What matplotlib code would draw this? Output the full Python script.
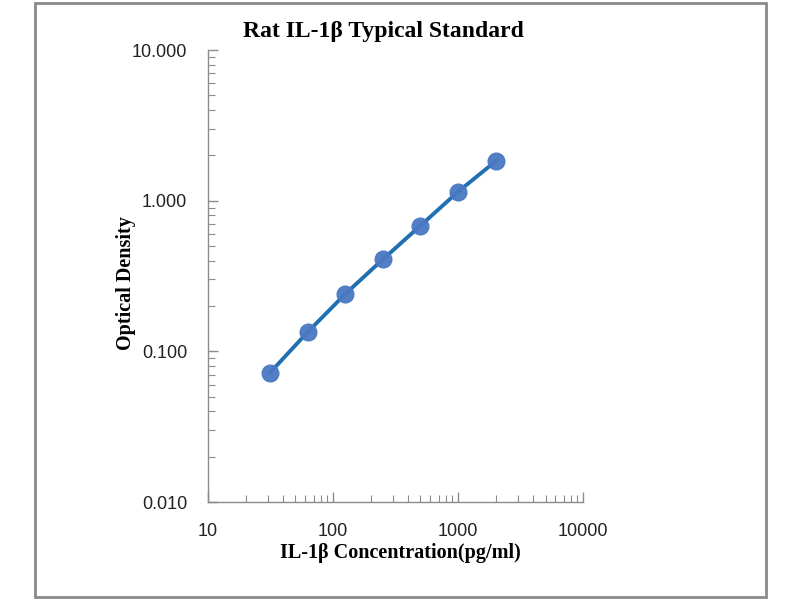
import matplotlib.pyplot as plt
from matplotlib.patches import Rectangle
from matplotlib.ticker import FixedLocator, FuncFormatter, LogLocator, NullFormatter

# standard curve data
concentration = [31.25, 62.5, 125, 250, 500, 1000, 2000]
optical_density = [0.072, 0.134, 0.240, 0.408, 0.683, 1.148, 1.83]

title = "Rat IL-1β Typical Standard"
x_label = "IL-1β Concentration(pg/ml)"
y_label = "Optical Density"

serif = ['Liberation Serif', 'DejaVu Serif']
sans = ['Liberation Sans', 'DejaVu Sans']

fig = plt.figure(figsize=(8, 6), dpi=100)
ax = fig.add_axes([0.26, 0.1633, 0.469, 0.7533])

ax.plot(concentration, optical_density, color='#1f6fb2', linewidth=2.8, zorder=2)
ax.plot(concentration, optical_density, linestyle='none', marker='o',
        markersize=12, markerfacecolor='#4a78c2', markeredgecolor='#4a78c2',
        alpha=0.95, zorder=3)

ax.set_xscale('log')
ax.set_yscale('log')
ax.set_xlim(10, 10000)
ax.set_ylim(0.01, 10)

ax.xaxis.set_major_locator(FixedLocator([10, 100, 1000, 10000]))
ax.yaxis.set_major_locator(FixedLocator([0.01, 0.1, 1, 10]))
ax.xaxis.set_minor_locator(LogLocator(base=10, subs=range(2, 10)))
ax.yaxis.set_minor_locator(LogLocator(base=10, subs=range(2, 10)))
ax.xaxis.set_minor_formatter(NullFormatter())
ax.yaxis.set_minor_formatter(NullFormatter())
ax.xaxis.set_major_formatter(FuncFormatter(lambda v, p: f"{v:.0f}"))
ax.yaxis.set_major_formatter(FuncFormatter(lambda v, p: f"{v:.3f}"))

for s in ['top', 'right']:
    ax.spines[s].set_visible(False)
for s in ['left', 'bottom']:
    ax.spines[s].set_color('#8c8c8c')
    ax.spines[s].set_linewidth(1.0)

ax.tick_params(axis='both', which='both', direction='in', color='#8c8c8c')
ax.tick_params(axis='both', which='major', length=7, width=1.0)
ax.tick_params(axis='both', which='minor', length=5, width=0.8)
ax.tick_params(axis='x', which='major', pad=15)
ax.tick_params(axis='y', which='major', pad=15)

for lab in ax.get_xticklabels() + ax.get_yticklabels():
    lab.set_family(sans)
    lab.set_fontsize(13)
    lab.set_color('#222222')

fig.text(0.479, 0.947, title, ha='center', va='center', family=serif,
         fontsize=17, fontweight='bold')
fig.text(0.5, 0.078, x_label, ha='center', va='center', family=serif,
         fontsize=14.5, fontweight='bold')
fig.text(0.157, 0.528, y_label, ha='center', va='center', rotation=90,
         family=serif, fontsize=14.5, fontweight='bold')

# grey frame around the chart
fig.patches.append(Rectangle((0.044, 0.005), 0.914, 0.99, transform=fig.transFigure,
                             fill=False, edgecolor='#8a8a8a', linewidth=2))

fig.savefig('out.png', dpi=100)
